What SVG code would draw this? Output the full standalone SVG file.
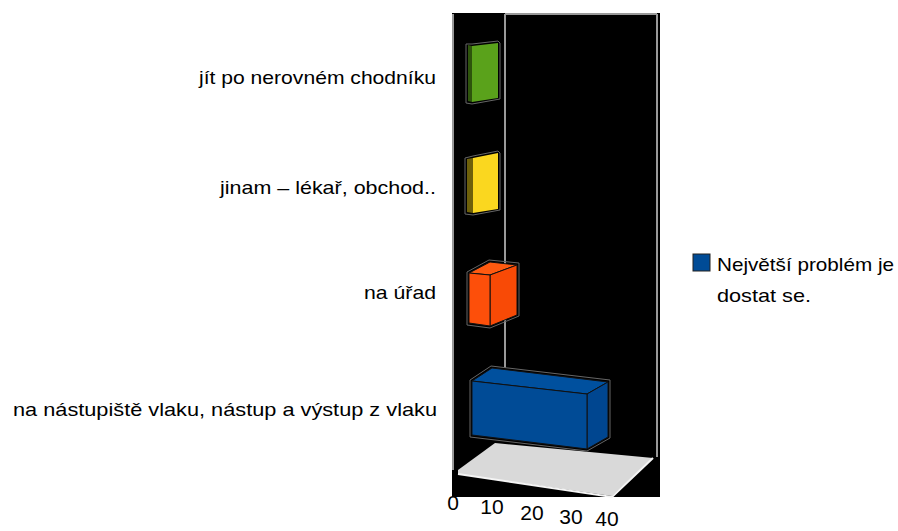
<svg xmlns="http://www.w3.org/2000/svg" width="898" height="531" viewBox="0 0 898 531">
<style>
.lbl{font-family:"Liberation Sans",Arial,sans-serif;font-size:19px;fill:#000}
.ax{font-family:"Liberation Sans",Arial,sans-serif;font-size:21px;fill:#000;text-anchor:middle}
.grid{stroke:#999;stroke-width:2;fill:none}
.edge{stroke:#111;stroke-width:1;stroke-linejoin:round}
.halo{fill:none;stroke:#666;stroke-width:1}
</style>
<rect width="898" height="531" fill="#fff"/>
<g id="plot">
<rect x="452" y="13" width="208" height="484" fill="#000"/>
<line class="grid" x1="505" y1="14" x2="657" y2="14"/>
<line class="grid" x1="453" y1="14" x2="453" y2="470" stroke="#777"/>
<line class="grid" x1="505" y1="14" x2="505" y2="368"/>
<line class="grid" x1="657" y1="14" x2="657" y2="457"/>
<polygon points="458,470 495,443 653,458 612,496 458,474" fill="#d9d9d9"/>
<polyline points="458,474 612,497 653,458" fill="none" stroke="#f4f4f4" stroke-width="2"/>
</g>
<g id="bar-green">
<polygon class="halo" points="466,44 472,44 498,41 500,43 500,99 472,104 466,103"/>
<polygon points="468,45 472,46 472,102 468,101" fill="#2e540c"/>
<polygon points="472,46 498,43 498,98 472,102" fill="#5aa21b"/>
</g>
<g id="bar-yellow">
<polygon class="halo" points="465,158 473,156 498,151 500,153 500,210 473,215 465,214"/>
<polygon points="467,159 473,158 473,213 467,212" fill="#6e600a"/>
<polygon points="473,158 498,153 498,209 473,213" fill="#fad71f"/>
</g>
<g id="bar-orange">
<polygon class="halo" points="467,272 489,260 519,263 519,316 490,328 467,325"/>
<polygon class="edge" points="469,273 490,262 517,265 490,275" fill="#ff5a10"/>
<polygon class="edge" points="490,275 517,265 517,315 490,326" fill="#f84a06"/>
<polygon class="edge" points="469,273 490,275 490,326 469,323" fill="#fd4f0a"/>
</g>
<g id="bar-blue">
<polygon class="halo" points="470,380 491,366 610,380 610,438 587,451 470,437"/>
<polygon class="edge" points="472,381 492,368 608,382 587,394" fill="#00509e"/>
<polygon class="edge" points="587,394 608,382 608,437 587,449" fill="#004690"/>
<polygon class="edge" points="472,381 587,394 587,449 472,435" fill="#004b96"/>
</g>
<g id="labels">
<text class="lbl" x="436" y="84" text-anchor="end" textLength="237" lengthAdjust="spacingAndGlyphs">jít po nerovném chodníku</text>
<text class="lbl" x="436" y="194" text-anchor="end" textLength="216" lengthAdjust="spacingAndGlyphs">jinam – lékař, obchod..</text>
<text class="lbl" x="436" y="299" text-anchor="end" textLength="72" lengthAdjust="spacingAndGlyphs">na úřad</text>
<text class="lbl" x="437" y="416" text-anchor="end" textLength="424" lengthAdjust="spacingAndGlyphs">na nástupiště vlaku, nástup a výstup z vlaku</text>
</g>
<g id="axis">
<text class="ax" x="453" y="510">0</text>
<text class="ax" x="492" y="514">10</text>
<text class="ax" x="532" y="520">20</text>
<text class="ax" x="571" y="524">30</text>
<text class="ax" x="607" y="526">40</text>
</g>
<g id="legend">
<rect x="693" y="254" width="17" height="17" fill="#004b96" stroke="#222" stroke-width="1"/>
<text class="lbl" x="717" y="271" textLength="177" lengthAdjust="spacingAndGlyphs">Největší problém je</text>
<text class="lbl" x="717" y="302" textLength="94" lengthAdjust="spacingAndGlyphs">dostat se.</text>
</g>
</svg>
